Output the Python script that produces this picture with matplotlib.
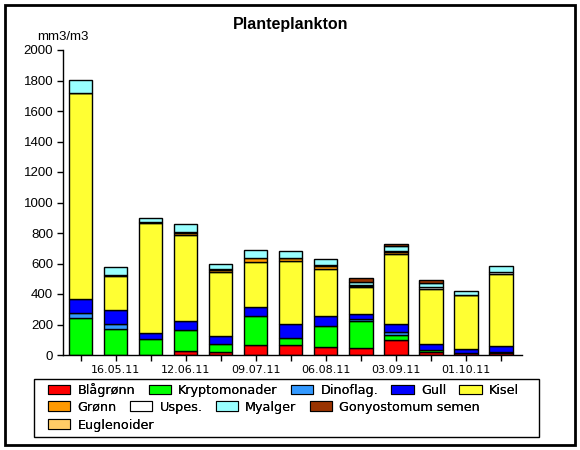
import numpy as np
import matplotlib
matplotlib.use('Agg')
import matplotlib.pyplot as plt
from matplotlib.patches import Rectangle, Patch

# sample dates (one bar each), labels on every second bar
dates = ['02.05.11', '16.05.11', '30.05.11', '12.06.11', '26.06.11', '09.07.11',
         '23.07.11', '06.08.11', '20.08.11', '03.09.11', '17.09.11', '01.10.11',
         '15.10.11']

groups = ['Blågrønn', 'Kryptomonader', 'Dinoflag.', 'Gull', 'Kisel',
          'Grønn', 'Uspes.', 'Myalger', 'Gonyostomum semen', 'Euglenoider']

blagronn = [0, 0, 0, 26, 20, 63, 63, 50, 44, 96, 20, 10, 11]
krypto   = [240, 168, 105, 136, 50, 195, 46, 142, 177, 33, 13, 4, 8]
dinoflag = [38, 33, 0, 0, 0, 0, 0, 0, 15, 20, 0, 0, 0]
gull     = [87, 94, 42, 61, 55, 55, 92, 62, 33, 54, 37, 26, 37]
kisel    = [1350, 220, 718, 566, 417, 295, 415, 312, 175, 457, 365, 352, 477]
gronn    = [0, 0, 0, 10, 13, 26, 19, 20, 6, 15, 0, 0, 0]
uspes    = [5, 10, 5, 5, 9, 0, 4, 3, 6, 5, 9, 3, 8]
myalger  = [80, 50, 28, 53, 31, 52, 46, 39, 22, 35, 26, 22, 44]
gonyo    = [0, 0, 0, 0, 0, 0, 0, 0, 30, 13, 20, 0, 0]
eugleno  = [0, 0, 0, 0, 0, 0, 0, 0, 0, 0, 0, 0, 0]

series = [blagronn, krypto, dinoflag, gull, kisel, gronn, uspes, myalger,
          gonyo, eugleno]
colors = ['#ff0000', '#00ff00', '#3399ff', '#0000ff', '#ffff33',
          '#ff9900', '#ffffff', '#99ffff', '#993300', '#ffcc66']

ARIAL = 'Liberation Sans'
VERD = 'DejaVu Sans'

fig = plt.figure(figsize=(5.8, 4.5), dpi=100)
ax = fig.add_axes([63/580, 1 - 355/450, (522 - 63)/580, (355 - 50)/450])

x = np.arange(len(dates))
bottom = np.zeros(len(dates))
for vals, c in zip(series, colors):
    vals = np.array(vals, dtype=float)
    lw = np.where(vals > 0, 1.0, 0.0)  # no edge for empty segments
    ax.bar(x, vals, 0.66, bottom=bottom, color=c, edgecolor='black',
           linewidth=lw)
    bottom += vals

ax.set_xlim(-0.51, 12.6)
ax.set_ylim(0, 2000)
ax.set_yticks(np.arange(0, 2001, 200))
ax.set_yticklabels([str(v) for v in range(0, 2001, 200)],
                   fontfamily=ARIAL, fontsize=9.5)
ax.set_xticks(x)
ax.set_xticklabels([d if i % 2 == 1 else '' for i, d in enumerate(dates)],
                   fontfamily=VERD, fontsize=8)
ax.tick_params(direction='out', length=4, width=1, colors='black', pad=3)
for s in ['top', 'right']:
    ax.spines[s].set_visible(False)
for s in ['left', 'bottom']:
    ax.spines[s].set_linewidth(1.0)

fig.text(291/580, 1 - 25/450, 'Planteplankton', ha='center', va='center',
         fontfamily=ARIAL, fontweight='bold', fontsize=11.5)
fig.text(37/580, 1 - 37/450, 'mm3/m3', ha='left', va='center',
         fontfamily=ARIAL, fontsize=9.5)

# legend: three rows, flowing left to right, in one frame
handles = [Patch(facecolor=c, edgecolor='black', linewidth=0.8) for c in colors]
rows = [(0, 5, 390), (5, 9, 407), (9, 10, 425)]
for a, b, ypix in rows:
    leg = fig.legend(handles[a:b], groups[a:b], loc='center left',
                     bbox_to_anchor=(48/580, 1 - ypix/450), ncol=b - a,
                     frameon=False, borderpad=0, borderaxespad=0,
                     handlelength=1.75, handleheight=0.8, handletextpad=0.55,
                     columnspacing=1.05, prop={'family': VERD, 'size': 9.2})
    fig.add_artist(leg)

fig.add_artist(Rectangle((34/580, 1 - 437/450), (539 - 34)/580, 58/450,
                         transform=fig.transFigure, fill=False,
                         edgecolor='black', linewidth=1.0))
fig.add_artist(Rectangle((5/580, 5/450), 570/580, 440/450,
                         transform=fig.transFigure, fill=False,
                         edgecolor='black', linewidth=2.0))

fig.savefig('out.png', dpi=100)
